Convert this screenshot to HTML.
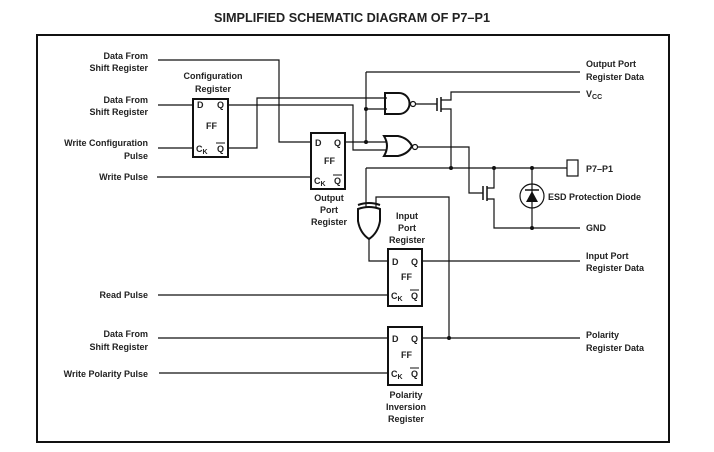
<!DOCTYPE html>
<html><head><style>body{margin:0;background:#fff}svg{display:block}</style></head><body>
<svg width="714" height="452" viewBox="0 0 714 452" xmlns="http://www.w3.org/2000/svg" font-family="Liberation Sans, sans-serif" font-weight="bold" fill="#222">
<text x="214" y="22" font-size="12.5" textLength="276" lengthAdjust="spacingAndGlyphs">SIMPLIFIED SCHEMATIC DIAGRAM OF P7–P1</text>
<rect x="37" y="35" width="632" height="407" fill="none" stroke="#111" stroke-width="2"/>
<g font-size="9" text-anchor="end">
<text x="148" y="59">Data From</text><text x="148" y="71">Shift Register</text>
<text x="148" y="103">Data From</text><text x="148" y="115">Shift Register</text>
<text x="148" y="146">Write Configuration</text><text x="148" y="159">Pulse</text>
<text x="148" y="180">Write Pulse</text>
<text x="148" y="298">Read Pulse</text>
<text x="148" y="337">Data From</text><text x="148" y="350">Shift Register</text>
<text x="148" y="377">Write Polarity Pulse</text>
</g>
<g font-size="9">
<text x="586" y="67">Output Port</text><text x="586" y="80">Register Data</text>
<text x="586" y="97">V<tspan font-size="7" dy="2">CC</tspan></text>
<text x="586" y="172">P7–P1</text>
<text x="548" y="200">ESD Protection Diode</text>
<text x="586" y="231">GND</text>
<text x="586" y="259">Input Port</text><text x="586" y="271">Register Data</text>
<text x="586" y="338">Polarity</text><text x="586" y="351">Register Data</text>
</g>
<g font-size="9" text-anchor="middle">
<text x="213" y="79">Configuration</text><text x="213" y="92">Register</text>
<text x="329" y="201">Output</text><text x="329" y="213">Port</text><text x="329" y="225">Register</text>
<text x="407" y="219">Input</text><text x="407" y="231">Port</text><text x="407" y="243">Register</text>
<text x="406" y="398">Polarity</text><text x="406" y="410">Inversion</text><text x="406" y="422">Register</text>
</g>
<g fill="none" stroke="#111" stroke-width="1.2">
<!-- FF boxes -->
<rect x="193" y="99" width="35" height="58" stroke-width="2"/>
<rect x="311" y="133" width="34" height="56" stroke-width="2"/>
<rect x="388" y="249" width="34" height="57" stroke-width="2"/>
<rect x="388" y="327" width="34" height="58" stroke-width="2"/>
<!-- inputs -->
<path d="M158 60H279V142H311"/>
<path d="M158 105H193M158 148H193M157 177H311"/>
<path d="M228 105H353V150H387"/>
<path d="M228 148H257V98H387"/>
<path d="M345 142H387"/>
<path d="M366 72V142M366 72H580M366 109H387"/>
<path d="M158 295H388M158 338H388M159 373H388"/>
<path d="M422 261H580M422 338H580"/>
<!-- NAND -->
<path d="M385 93H399A10.5 10.5 0 0 1 399 114H385Z" stroke-width="2"/>
<circle cx="413" cy="104" r="2.5"/>
<path d="M415.5 104H437"/>
<!-- NOR -->
<path d="M384 136H398Q408 138 412 146Q408 154 398 156H384Q390 146 384 136Z" stroke-width="2"/>
<circle cx="415" cy="147" r="2.5"/>
<path d="M417.5 147H469V193H483"/>
<!-- PMOS -->
<path d="M437 98V111M441 97V112" stroke-width="1.5"/>
<path d="M441 100H451V92H580M441 109H451V168"/>
<!-- NMOS -->
<path d="M483 186V200M487 186V201" stroke-width="1.5"/>
<path d="M487 188H494V168M487 199H494V228H580"/>
<!-- node line -->
<path d="M366 168H567"/>
<rect x="567" y="160" width="11" height="16"/>
<!-- diode -->
<path d="M532 168V228"/>
<circle cx="532" cy="196" r="12"/>
<!-- XOR -->
<path d="M366 168V208"/>
<path d="M358 209Q369 205 380 209V221Q378 233 369 239Q360 233 358 221Z" stroke-width="2"/>
<path d="M358 205Q369 201 380 205" stroke-width="2"/>
<path d="M369 239V261H388"/>
<path d="M376 208V197H449V338"/>
</g>
<path d="M526 202H538L532 191Z" fill="#111"/>
<path d="M525 190H539" stroke="#111" stroke-width="1.5"/>
<g fill="#111">
<circle cx="366" cy="109" r="2"/><circle cx="366" cy="142" r="2"/>
<circle cx="451" cy="168" r="2"/><circle cx="494" cy="168" r="2"/><circle cx="532" cy="168" r="2"/>
<circle cx="532" cy="228" r="2"/><circle cx="449" cy="338" r="2"/>
</g>
<g font-size="9">
<text x="197" y="108">D</text><text x="217" y="108">Q</text><text x="206" y="129">FF</text>
<text x="196" y="152">C<tspan font-size="7" dy="2">K</tspan></text><text x="217" y="152">Q</text>
<text x="315" y="146">D</text><text x="334" y="146">Q</text><text x="324" y="164">FF</text>
<text x="314" y="184">C<tspan font-size="7" dy="2">K</tspan></text><text x="334" y="184">Q</text>
<text x="392" y="265">D</text><text x="411" y="265">Q</text><text x="401" y="280">FF</text>
<text x="391" y="299">C<tspan font-size="7" dy="2">K</tspan></text><text x="411" y="299">Q</text>
<text x="392" y="342">D</text><text x="411" y="342">Q</text><text x="401" y="358">FF</text>
<text x="391" y="377">C<tspan font-size="7" dy="2">K</tspan></text><text x="411" y="377">Q</text>
</g>
<g stroke="#111" stroke-width="1">
<path d="M216 143H225M333 175H342M410 290H419M410 368H419"/>
</g>
</svg>
</body></html>
